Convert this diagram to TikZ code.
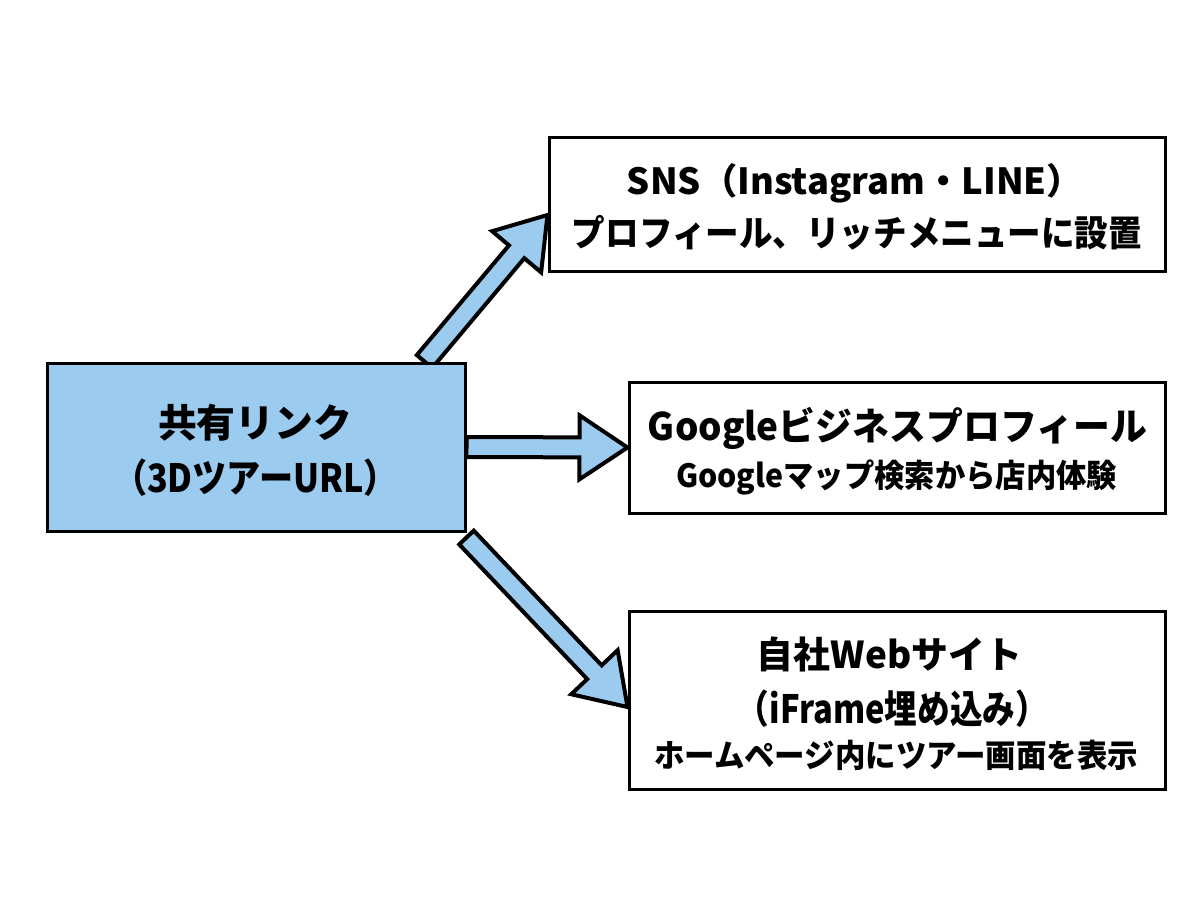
\documentclass[tikz,border=0pt]{standalone}
\usepackage{fontspec}
\usepackage{graphicx}
\setmainfont{Noto Sans CJK JP}
\usetikzlibrary{calc}
\pgfdeclarelayer{bg}
\pgfsetlayers{bg,main}
\definecolor{skyfill}{RGB}{155,204,240}
% #1 width (pt), #2 font size (pt), #3 text
\newcommand\fitline[3]{\resizebox{#1}{\height}{\fontsize{#2}{#2}\selectfont\bfseries #3}}
\newcommand\fatarrow[2]{%
  \coordinate (fa-t) at (#1);
  \coordinate (fa-p) at (#2);
  \coordinate (fa-h) at ($(fa-p)!24pt!(fa-t)$);
  \draw[fatarrowstyle]
    ($(fa-t)!5pt!90:(fa-p)$) -- ($(fa-h)!5pt!90:(fa-p)$) --
    ($(fa-h)!16pt!90:(fa-p)$) -- (fa-p) --
    ($(fa-h)!16pt!-90:(fa-p)$) -- ($(fa-h)!5pt!-90:(fa-p)$) --
    ($(fa-t)!5pt!-90:(fa-p)$) -- cycle;}
\begin{document}
\begin{tikzpicture}[x=0.5pt,y=-0.5pt,
  box/.style={draw=black, line width=1.5pt, fill=white, inner sep=0pt},
  mainbox/.style={box, fill=skyfill},
  txt/.style={inner sep=0pt, anchor=base},
  fatarrowstyle/.style={draw=black, line width=2pt, fill=skyfill, line join=miter}]
\begin{pgfonlayer}{bg}
  \fill[white] (0,0) rectangle (1200,896);
\end{pgfonlayer}
\useasboundingbox (0,0) rectangle (1200,896);

% boxes
\node[mainbox, minimum width=209pt, minimum height=84pt] (main) at (256,447) {};
\node[box, minimum width=308pt, minimum height=67pt] (sns) at (857,204) {};
\node[box, minimum width=268pt, minimum height=65.5pt] (google) at (897,447.5) {};
\node[box, minimum width=268pt, minimum height=89pt] (web) at (897,700) {};

% texts
\node[txt] (main1) at (255,437) {\fitline{97pt}{19.5pt}{共有リンク}};
\node[txt] (main2) at (255.5,492) {\fitline{142.5pt}{19.5pt}{（3DツアーURL）}};

\node[txt] (sns1) at (855,194) {\fitline{228pt}{18pt}{SNS（Instagram・LINE）}};
\node[txt] (sns2) at (857,246) {\fitline{285pt}{18pt}{プロフィール、リッチメニューに設置}};

\node[txt] (g1) at (897.5,440) {\fitline{249.5pt}{19pt}{Googleビジネスプロフィール}};
\node[txt] (g2) at (896.5,487) {\fitline{220.5pt}{16pt}{Googleマップ検索から店内体験}};

\node[txt] (w1) at (889.5,668) {\fitline{132.5pt}{18.5pt}{自社Webサイト}};
\node[txt] (w2) at (892.5,723) {\fitline{155.5pt}{19.5pt}{（iFrame埋め込み）}};
\node[txt] (w3) at (896,767) {\fitline{242pt}{16pt}{ホームページ内にツアー画面を表示}};

% arrows (behind boxes)
\begin{pgfonlayer}{bg}
  \fatarrow{$(main.north east)+(-42,0)$}{$(sns.west)+(0,11)$}
  \fatarrow{main.east}{google.west}
  \fatarrow{$(main.south east)+(0,5)$}{$(web.west)+(0,7)$}
\end{pgfonlayer}
\end{tikzpicture}
\end{document}
